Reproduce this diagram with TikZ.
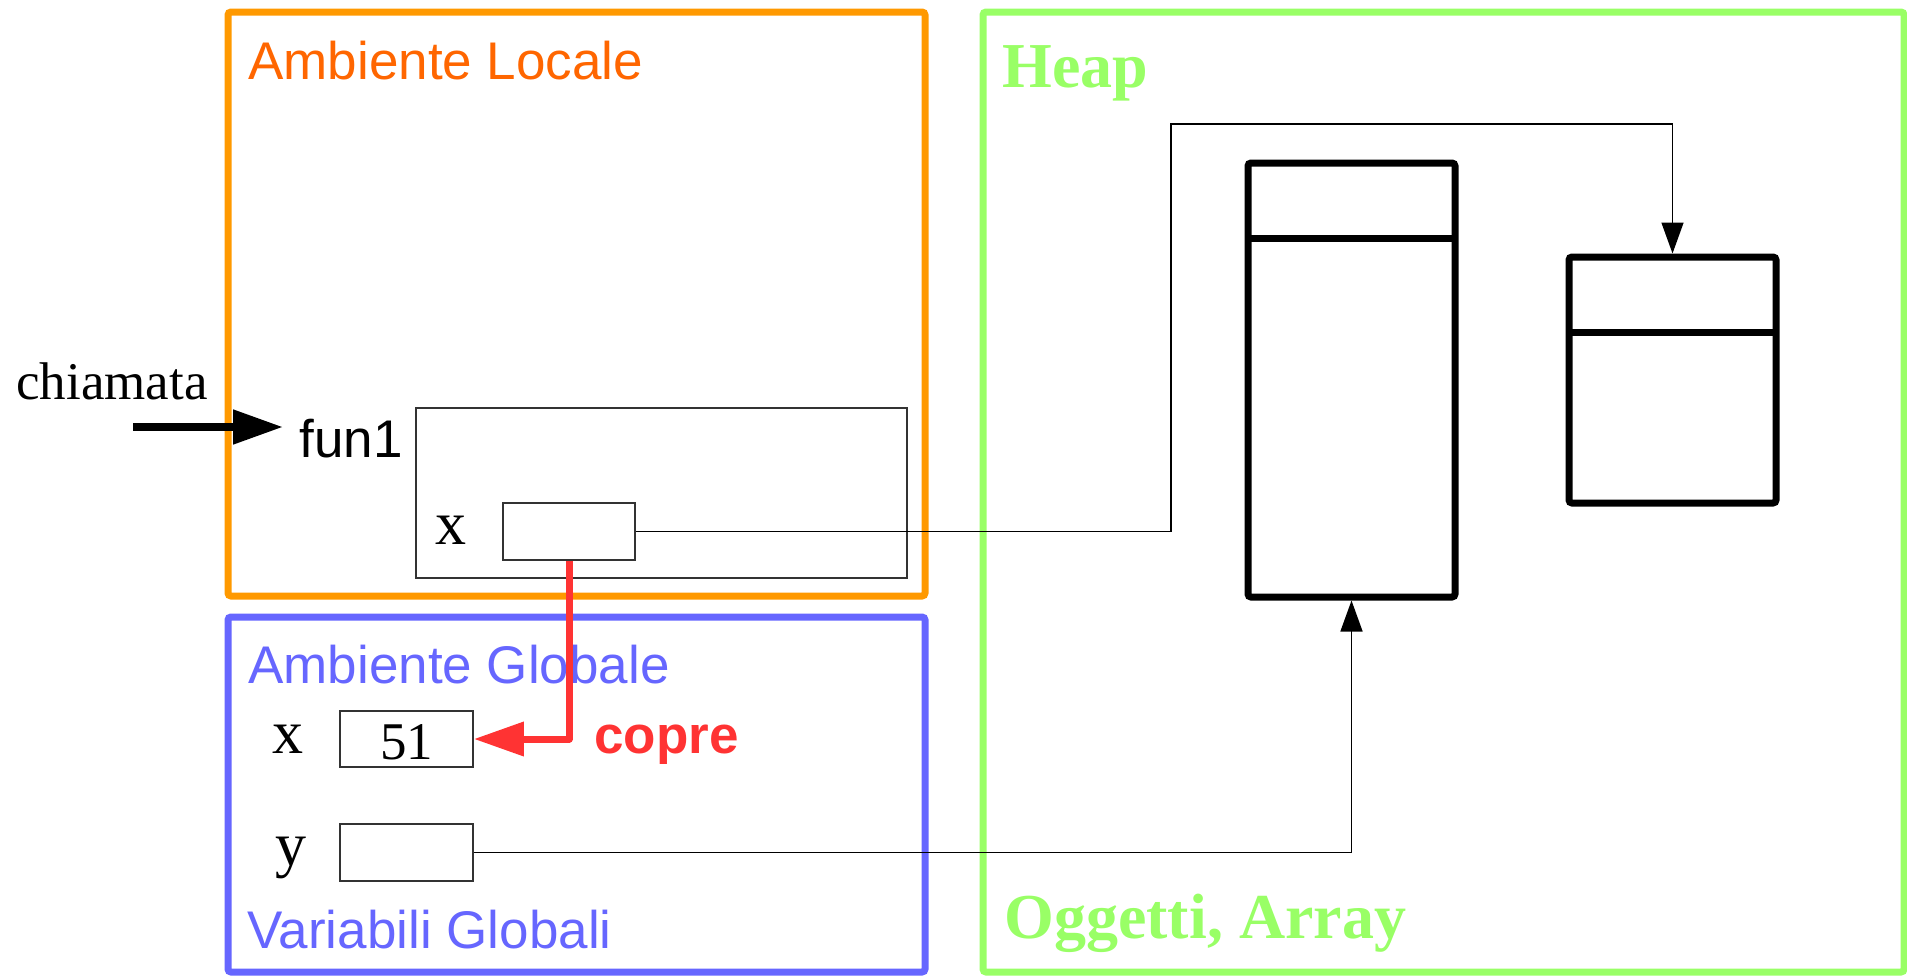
\documentclass[tikz,border=0pt]{standalone}
\usepackage{fontspec}
\setmainfont{Liberation Serif}
\setsansfont{Liberation Sans}
\usetikzlibrary{arrows.meta}
\definecolor{orangeB}{HTML}{FF9900}
\definecolor{orangeT}{HTML}{FF6600}
\definecolor{blueB}{HTML}{6666FF}
\definecolor{greenB}{HTML}{99FF66}
\definecolor{redA}{HTML}{FF3333}
\definecolor{boxgray}{HTML}{333333}
\begin{document}
\begin{tikzpicture}[x=0.5pt,y=-0.5pt,
  envbox/.style={draw=#1, line width=3.5pt, rounded corners=1.5pt, inner sep=0pt},
  cellbox/.style={draw=boxgray, line width=0.9pt, inner sep=0pt},
  heapbox/.style={draw=black, line width=3.5pt, rounded corners=1.5pt, inner sep=0pt},
  lbl/.style={inner sep=0pt, anchor=base west},
  sanstxt/.style={lbl, font=\sffamily\fontsize{26.5}{30}\selectfont},
  seriftxt/.style={lbl, font=\fontsize{26.5}{30}\selectfont},
  vartxt/.style={lbl, font=\fontsize{31}{34}\selectfont},
  heaptxt/.style={lbl, text=greenB, font=\bfseries\fontsize{32}{36}\selectfont},
  conn/.style={draw=black, line width=0.75pt, -{Triangle[length=15.5pt,width=11pt]}},
  bigarrow/.style={line width=#1, -{Triangle[length=25pt,width=16.5pt]}}
]
\useasboundingbox (0,0) rectangle (1907,975);

% environment boxes
\node[envbox=orangeB, minimum width=348.5pt, minimum height=292pt] (locale) at (576.5,304) {};
\node[envbox=blueB, minimum width=348.5pt, minimum height=177.5pt] (globale) at (576.5,794.5) {};
\node[envbox=greenB, minimum width=460.5pt, minimum height=480pt] (heap) at (1443.5,492) {};

% labels of environments
\node[sanstxt, text=orangeT] (tlocale) at (248,79) {Ambiente Locale};
\node[sanstxt, text=blueB] (tglobale) at (248,683) {Ambiente Globale};
\node[sanstxt, text=blueB] (tvariabili) at (247,948) {Variabili Globali};
\node[heaptxt] (theap) at (1002,87) {Heap};
\node[heaptxt] (toggetti) at (1004,938) {Oggetti, Array};

% call
\node[seriftxt] (tchiamata) at (16,399) {chiamata};
\node[sanstxt] (tfun) at (299,457) {fun1};
\coordinate (cstart) at (133,427);
\coordinate (cend) at (283,427);
\draw[bigarrow=4pt] (cstart) -- (cend);

% activation record
\node[cellbox, minimum width=245.5pt, minimum height=85pt] (frame) at (661.5,493) {};
\node[vartxt] (tlx) at (435,544) {x};
\node[cellbox, minimum width=66pt, minimum height=28.5pt] (lx) at (569,531.5) {};

% globals
\node[vartxt] (tgx) at (272,753) {x};
\node[cellbox, minimum width=66.5pt, minimum height=28pt] (gx) at (406.5,739) {};
\node[seriftxt] (t51) at (380,759) {51};
\node[vartxt] (tgy) at (275,865) {y};
\node[cellbox, minimum width=66.5pt, minimum height=28.5pt] (gy) at (406.5,852.5) {};

% heap objects
\node[heapbox, minimum width=103.5pt, minimum height=217pt] (big) at (1351.5,380) {};
\node[heapbox, minimum width=103.5pt, minimum height=123pt] (small) at (1672.5,380) {};
\draw[line width=3.5pt] (1248,238) -- (1455,238);
\draw[line width=3.5pt] (1569,332) -- (1776,332);

% references
\coordinate (bend) at (1171,124);
\draw[conn] (lx.east) -| (bend) -| (small.north);
\draw[conn] (gy.east) -| (big.south);

% shadowing
\draw[bigarrow=3.5pt, draw=redA, line join=round] (lx.south) |- (gx.east);
\node[sanstxt, text=redA, font=\sffamily\bfseries\fontsize{26.5}{30}\selectfont] (tcopre) at (594,753) {copre};
\end{tikzpicture}
\end{document}
